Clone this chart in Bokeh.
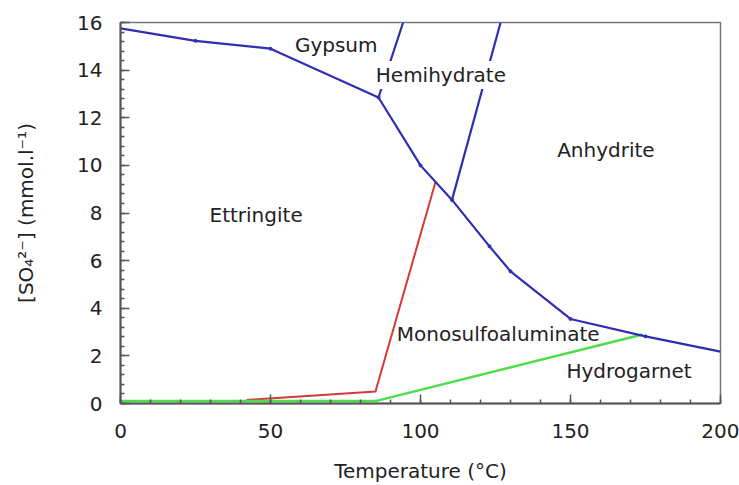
from bokeh.plotting import figure
from bokeh.models import Range1d, SingleIntervalTicker, ColumnDataSource
from bokeh.core.properties import value
from bokeh.embed import file_html
from bokeh.resources import INLINE

# Phase boundary data (temperature in °C, sulfate in mmol/l)
ett_T = [0, 25, 50, 86, 100, 110.5, 123, 130, 150, 175, 200]
ett_S = [15.75, 15.23, 14.9, 12.85, 10.0, 8.55, 6.6, 5.55, 3.55, 2.82, 2.18]

gyp_hemi_T = [86, 94.2]
gyp_hemi_S = [12.85, 16.0]

hemi_anh_T = [110.5, 126.7]
hemi_anh_S = [8.55, 16.0]

mono_T = [42, 85, 105]
mono_S = [0.15, 0.5, 9.3]

hydro_T = [0, 85, 174]
hydro_S = [0.1, 0.1, 2.9]

label_names = ["Gypsum", "Anhydrite", "Ettringite", "Monosulfoaluminate", "Hydrogarnet"]
label_T = [71.9, 161.8, 45.2, 125.9, 169.5]
label_S = [15.06, 10.65, 7.93, 2.9, 1.36]

hemi_name = ["Hemihydrate"]
hemi_T = [106.8]
hemi_S = [13.8]

FONT = "DejaVu Sans"
BLUE = "#2e2eb3"
RED = "#d23a3a"
GREEN = "#4cdc4c"
TXT = "#222222"

p = figure(width=739, height=485, output_backend="svg", toolbar_location=None,
           x_range=Range1d(0, 200), y_range=Range1d(0, 16),
           min_border_left=120, min_border_right=19, min_border_top=22, min_border_bottom=81)

p.xgrid.visible = False
p.ygrid.visible = False
p.outline_line_color = "#777777"
p.outline_line_width = 1.5
p.background_fill_color = "white"
p.border_fill_color = "white"

p.line(mono_T, mono_S, line_color=RED, line_width=2)
p.line(hydro_T, hydro_S, line_color=GREEN, line_width=2.5)
p.line(ett_T, ett_S, line_color=BLUE, line_width=2.2)
p.scatter(ett_T[1:-1], ett_S[1:-1], size=3, color=BLUE)
p.line(gyp_hemi_T, gyp_hemi_S, line_color=BLUE, line_width=2.2)
p.line(hemi_anh_T, hemi_anh_S, line_color=BLUE, line_width=2.2)

src = ColumnDataSource(dict(x=label_T, y=label_S, t=label_names))
p.text(x="x", y="y", text="t", source=src, text_font=value(FONT), text_font_size="20px",
       text_color=TXT, text_align="center", text_baseline="middle")

hsrc = ColumnDataSource(dict(x=hemi_T, y=hemi_S, t=hemi_name))
p.text(x="x", y="y", text="t", source=hsrc, text_font=value(FONT), text_font_size="20px",
       text_color=TXT, text_align="center", text_baseline="middle",
       background_fill_color="white", padding=2)

for ax in (p.xaxis[0], p.yaxis[0]):
    ax.axis_line_color = "#555555"
    ax.axis_line_width = 2
    ax.major_tick_line_color = "#555555"
    ax.minor_tick_line_color = "#555555"
    ax.major_tick_line_width = 1.5
    ax.minor_tick_line_width = 1.5
    ax.major_tick_in = 9
    ax.major_tick_out = 0
    ax.minor_tick_in = 4
    ax.minor_tick_out = 0
    ax.major_label_text_font = FONT
    ax.major_label_text_font_size = "20px"
    ax.major_label_text_color = TXT
    ax.axis_label_text_font = FONT
    ax.axis_label_text_font_size = "20px"
    ax.axis_label_text_font_style = "normal"
    ax.axis_label_text_color = TXT

p.xaxis.ticker = SingleIntervalTicker(interval=50, num_minor_ticks=5)
p.yaxis.ticker = SingleIntervalTicker(interval=2, num_minor_ticks=5)
p.xaxis.axis_label = "Temperature (°C)"
p.yaxis.axis_label = "[SO₄²⁻] (mmol.l⁻¹)"
p.xaxis.major_label_standoff = 20
p.yaxis.major_label_standoff = 18
p.xaxis.axis_label_standoff = 18
p.yaxis.axis_label_standoff = 36

open("out.html", "w").write(file_html(p, INLINE))
